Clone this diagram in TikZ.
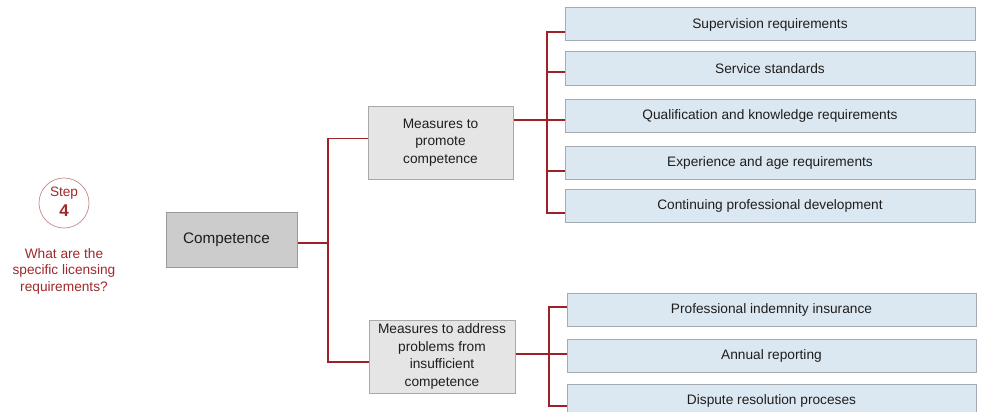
\documentclass[tikz,border=0pt]{standalone}
\usepackage{fontspec}
\setmainfont{Liberation Sans}
\usetikzlibrary{calc}

\definecolor{linkred}{HTML}{9B2226}
\definecolor{steptext}{HTML}{9E2A2B}
\definecolor{stepring}{HTML}{C98A8A}
\definecolor{rootfill}{HTML}{CCCCCC}
\definecolor{rootline}{HTML}{9A9A9A}
\definecolor{midfill}{HTML}{E5E5E5}
\definecolor{midline}{HTML}{A9A9A9}
\definecolor{leaffill}{HTML}{DCE8F1}
\definecolor{leafline}{HTML}{A4ABB2}
\definecolor{boxtext}{HTML}{1E1E1E}

\tikzset{
  rootbox/.style={draw=rootline, fill=rootfill, line width=1pt, rectangle,
    inner sep=0pt, minimum width=131pt, minimum height=55pt, text=boxtext,
    font=\fontsize{15.3}{18}\selectfont},
  midbox/.style={draw=midline, fill=midfill, line width=1pt, rectangle,
    inner sep=0pt, minimum height=73pt, align=center, text=boxtext,
    font=\fontsize{13.7}{17.5}\selectfont},
  leafbox/.style={draw=leafline, fill=leaffill, line width=1pt, rectangle,
    inner sep=0pt, minimum height=33pt, text=boxtext,
    font=\fontsize{13.7}{16}\selectfont},
  conn/.style={draw=linkred, line width=1.1pt},
}

\begin{document}
\begin{tikzpicture}[x=1pt, y=-1pt]
  \clip (0,0) rectangle (982,412);
  \fill[white] (0,0) rectangle (982,412);

  % step marker and question
  \node[circle, draw=stepring, line width=0.7pt, minimum size=50pt, inner sep=0pt] (stepring) at (64,203) {};
  \node[text=steptext, font=\fontsize{13.6}{16}\selectfont, inner sep=0pt] (steplabel) at (64,193) {Step};
  \node[text=steptext, font=\bfseries\fontsize{17}{18}\selectfont, inner sep=0pt] (stepnum) at (64,211) {4};
  \node[text=steptext, align=center, font=\fontsize{13.7}{16.5}\selectfont, inner sep=0pt] (question) at (64,271)
    {What are the\\specific licensing\\requirements?};

  % tree nodes
  \node[rootbox] (comp) at (231.5,239.5) {Competence\kern10pt};
  \node[midbox, minimum width=145pt] (pmc) at (440.5,142.5) {Measures to\\promote\\competence};
  \node[midbox, minimum width=146pt] (adr) at (442,356.5) {Measures to address\\problems from\\insufficient\\competence};

  \node[leafbox, minimum width=410pt] (sup)  at (770,24.5)  {Supervision requirements};
  \node[leafbox, minimum width=410pt] (svc)  at (770,68.5)  {Service standards};
  \node[leafbox, minimum width=410pt] (qual) at (770,115.5) {Qualification and knowledge requirements};
  \node[leafbox, minimum width=410pt] (exp)  at (770,162.5) {Experience and age requirements};
  \node[leafbox, minimum width=410pt] (cpd)  at (770,205.5) {Continuing professional development};

  \node[leafbox, minimum width=409pt] (pii) at (771.5,309.5) {Professional indemnity insurance};
  \node[leafbox, minimum width=409pt] (ann) at (771.5,355.5) {Annual reporting};
  \node[leafbox, minimum width=409pt] (drp) at (771.5,400.5) {Dispute resolution proceses};

  % connector end points
  \coordinate (compout) at ([yshift=-3.5pt]comp.east);
  \coordinate (pmcin)   at ([yshift=4pt]pmc.west);
  \coordinate (adrin)   at ([yshift=-5.5pt]adr.west);
  \coordinate (pmcout)  at ([yshift=22.5pt]pmc.east);
  \coordinate (adrout)  at ([yshift=2.5pt]adr.east);
  \coordinate (supin)   at ([yshift=-7.5pt]sup.west);
  \coordinate (svcin)   at ([yshift=-3.5pt]svc.west);
  \coordinate (qualin)  at ([yshift=-4.5pt]qual.west);
  \coordinate (expin)   at ([yshift=-8.5pt]exp.west);
  \coordinate (cpdin)   at ([yshift=-7.5pt]cpd.west);
  \coordinate (piiin)   at ([yshift=2.5pt]pii.west);
  \coordinate (annin)   at ([yshift=1.5pt]ann.west);
  \coordinate (drpin)   at ([yshift=-5.5pt]drp.west);
  \coordinate (j1) at (328,0);
  \coordinate (j2) at (547,0);
  \coordinate (j3) at (549,0);

  % first level
  \draw[conn] (compout) -- (compout -| j1);
  \draw[conn] (pmcin) -| (j1 |- adrin) -- (adrin);

  % promote branch
  \draw[conn] (pmcout) -- (qualin);
  \draw[conn] (supin) -| (j2 |- cpdin) -- (cpdin);
  \draw[conn] (svcin) -- (svcin -| j2);
  \draw[conn] (expin) -- (expin -| j2);

  % address branch
  \draw[conn] (adrout) -- (adrout -| j3);
  \draw[conn] (piiin) -| (j3 |- drpin) -- (drpin);
  \draw[conn] (annin) -- (annin -| j3);
\end{tikzpicture}
\end{document}
